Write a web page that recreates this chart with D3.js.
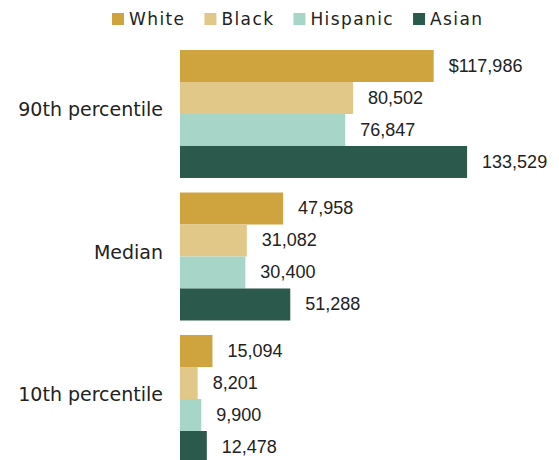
<!DOCTYPE html>
<html>
<head>
<meta charset="utf-8">
<script src="https://cdn.jsdelivr.net/npm/d3@7"></script>
<style>
  body { margin: 0; background: #fff; }
  svg { display: block; }
  .cat-label { font-family: "DejaVu Sans", sans-serif; font-size: 19px; fill: #222; }
  .val-label { font-family: "Liberation Sans", Arial, sans-serif; font-size: 18px; fill: #222; }
  .legend-label { font-family: "DejaVu Sans", sans-serif; font-size: 17px; fill: #222; letter-spacing: 1.4px; }
</style>
</head>
<body>
<div id="chart"></div>
<script>
// Income levels by race, values in dollars
const groups = ["90th percentile", "Median", "10th percentile"];
const races = ["White", "Black", "Hispanic", "Asian"];
const whiteValues = [117986, 47958, 15094];
const blackValues = [80502, 31082, 8201];
const hispanicValues = [76847, 30400, 9900];
const asianValues = [133529, 51288, 12478];
const raceColors = ["#cfa43f", "#e2c888", "#a7d5c8", "#2b5a4d"];

const seriesValues = [whiteValues, blackValues, hispanicValues, asianValues];

// flatten into one record per bar
const rows = [];
groups.forEach((g, gi) => {
  races.forEach((r, ri) => {
    rows.push({group: g, race: r, value: seriesValues[ri][gi], first: gi === 0 && ri === 0});
  });
});

const width = 559, height = 460;

const svg = d3.select('#chart').append('svg')
    .attr('width', width)
    .attr('height', height);

// Scales
const x = d3.scaleLinear()
    .domain([0, 140000])
    .range([180, 481]);

const y0 = d3.scaleBand()
    .domain(groups)
    .range([50, 463])
    .paddingInner(0.102);

const y1 = d3.scaleBand()
    .domain(races)
    .range([0, y0.bandwidth()]);

const color = d3.scaleOrdinal()
    .domain(races)
    .range(raceColors);

const fmt = d3.format(',');

// Bars
svg.append('g').selectAll('rect')
    .data(rows)
  .join('rect')
    .attr('x', x(0))
    .attr('y', d => y0(d.group) + y1(d.race))
    .attr('width', d => x(d.value) - x(0))
    .attr('height', y1.bandwidth())
    .attr('fill', d => color(d.race));

// Value labels
svg.append('g').selectAll('text')
    .data(rows)
  .join('text')
    .attr('class', 'val-label')
    .attr('x', d => x(d.value) + 15)
    .attr('y', d => y0(d.group) + y1(d.race) + y1.bandwidth() / 2)
    .attr('dy', '0.33em')
    .text(d => (d.first ? '$' : '') + fmt(d.value));

// Category labels
svg.append('g').selectAll('text')
    .data(groups)
  .join('text')
    .attr('class', 'cat-label')
    .attr('x', 163)
    .attr('y', d => y0(d) + y0.bandwidth() / 2 + 2)
    .attr('text-anchor', 'end')
    .text(d => d);

// Legend
const legend = svg.append('g').attr('transform', 'translate(112,0)');
let lx = 0;
races.forEach((r, i) => {
  const item = legend.append('g').attr('transform', `translate(${lx},0)`);
  item.append('rect')
      .attr('x', 0)
      .attr('y', 13)
      .attr('width', 12)
      .attr('height', 12)
      .attr('fill', raceColors[i]);
  const t = item.append('text')
      .attr('class', 'legend-label')
      .attr('x', 17)
      .attr('y', 25)
      .text(r);
  lx += 17 + t.node().getComputedTextLength() + 19;
});
</script>
</body>
</html>
